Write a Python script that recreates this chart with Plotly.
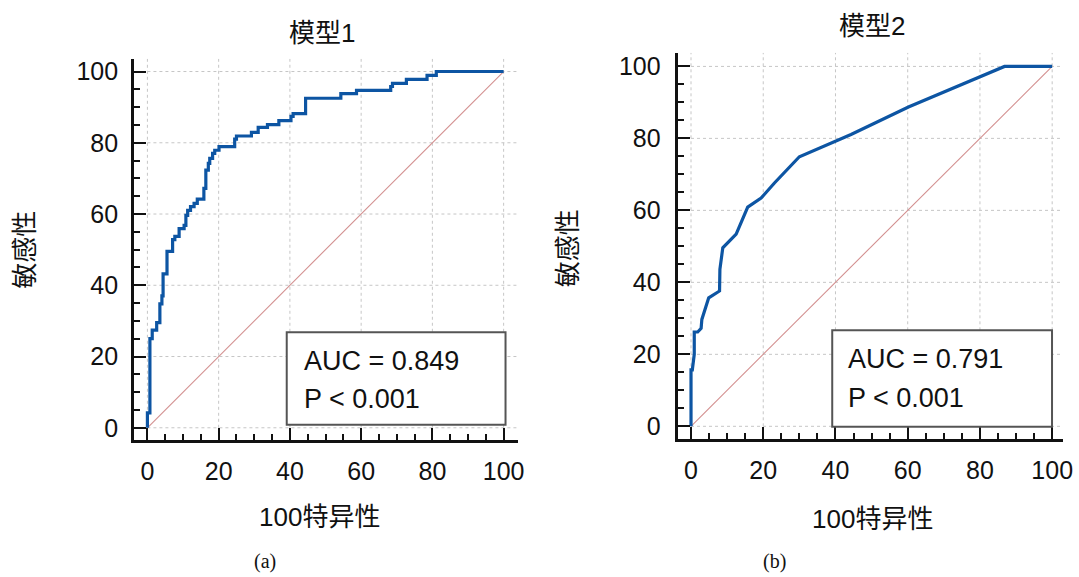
import plotly.graph_objects as go

# ---------------- data ----------------
# Model 1 ROC (step curve): 100-specificity (x) and sensitivity (y)
m1_fpr = [0, 0, 0.7, 1.35, 2.6, 3.5, 4.07, 4.4, 5.5, 7.07, 7.7, 8.9, 10.3, 10.8, 11.3,
          12.1, 13.1, 14.0, 15.85, 16.4, 17.1, 17.5, 18.3, 18.9, 20.1, 24.5, 25.0,
          29.2, 31.1, 33.7, 36.9, 40.3, 40.9, 44.4, 54.3, 58.7, 68.3, 68.8, 72.7,
          78.5, 81.1, 100]
m1_tpr = [0, 4.2, 25.0, 27.4, 29.5, 34.8, 37.0, 43.2, 49.5, 52.8, 53.7, 55.9, 56.8,
          59.6, 61.0, 62.1, 63.0, 64.2, 67.2, 72.3, 74.2, 75.6, 77.0, 77.9, 78.9,
          81.0, 81.9, 82.9, 84.3, 85.1, 86.2, 87.4, 88.2, 92.5, 93.8, 94.7, 95.8,
          96.7, 97.8, 98.9, 100, 100]

# Model 2 ROC (piecewise linear)
m2_fpr = [0, 0, 0.36, 0.9, 0.9, 1.85, 2.8, 3.0, 4.9, 7.9, 8.0, 8.8, 12.5, 15.7, 19.4,
          23.1, 30.0, 44.3, 60.2, 86.8, 100]
m2_tpr = [0, 15.7, 15.7, 20.0, 26.2, 26.2, 27.2, 29.7, 35.7, 37.6, 43.6, 49.6, 53.4,
          60.9, 63.4, 67.6, 74.9, 81.1, 88.7, 100, 100]

ref_line = [0, 100]
tick_vals = [0, 20, 40, 60, 80, 100]
titles = ["模型1", "模型2"]
auc_text = ["AUC = 0.849", "AUC = 0.791"]
p_text = ["P < 0.001", "P < 0.001"]
x_title = "100特异性"
y_title = "敏感性"
panel_labels = ["(a)", "(b)"]

# ---------------- layout helpers ----------------
REF_W, REF_H = 1079, 577
W, H = 1088, 577
def fx(px):
    return px / REF_W
def fy(py):
    return 1 - py / REF_H

CURVE = "#0d55a3"
DIAG = "#d39090"
GRID = "#c6c6c6"
FONT = "Liberation Sans, Arial, Noto Sans CJK SC, sans-serif"

X1_RANGE = [-3.8, 103.9]
Y1_RANGE = [-3.35, 103.6]
X2_RANGE = [-3.5, 103.0]
Y2_RANGE = [-3.45, 103.8]

fig = go.Figure()

fig.add_trace(go.Scatter(x=ref_line, y=ref_line, mode="lines",
                         line=dict(color=DIAG, width=1.1), xaxis="x", yaxis="y",
                         showlegend=False, hoverinfo="skip"))
fig.add_trace(go.Scatter(x=m1_fpr, y=m1_tpr, mode="lines",
                         line=dict(color=CURVE, width=3.2, shape="hv"),
                         xaxis="x", yaxis="y", showlegend=False))
fig.add_trace(go.Scatter(x=ref_line, y=ref_line, mode="lines",
                         line=dict(color=DIAG, width=1.1), xaxis="x2", yaxis="y2",
                         showlegend=False, hoverinfo="skip"))
fig.add_trace(go.Scatter(x=m2_fpr, y=m2_tpr, mode="lines",
                         line=dict(color=CURVE, width=3.2),
                         xaxis="x2", yaxis="y2", showlegend=False))

def axis(domain, rng, anchor, standoff):
    return dict(
        domain=domain, range=rng, anchor=anchor,
        tickvals=tick_vals, ticks="inside", ticklen=12, tickwidth=2, tickcolor="#111",
        showline=True, linewidth=2.5, linecolor="#111", mirror=False,
        showgrid=False, zeroline=False, fixedrange=True,
        tickfont=dict(size=25, color="#111", family=FONT),
        ticklabelstandoff=standoff,
        minor=dict(ticks="inside", ticklen=6, tickwidth=1.5, tickcolor="#111",
                   dtick=5, tick0=0, showgrid=False),
    )

fig.update_layout(
    width=W, height=H,
    margin=dict(l=0, r=0, t=0, b=0),
    paper_bgcolor="white", plot_bgcolor="white",
    font=dict(family=FONT, color="#111"),
    xaxis=axis([fx(134), fx(518)], X1_RANGE, "y", 8),
    yaxis=axis([fy(441), fy(58)], Y1_RANGE, "x", 8),
    xaxis2=axis([fx(679), fx(1064)], X2_RANGE, "y2", 8),
    yaxis2=axis([fy(440), fy(52)], Y2_RANGE, "x2", 10),
)

shapes = []
# dotted grid lines that start at the 0 tick (as in the reference) and run to the plot edge
for xr, yr, xrng, yrng in [("x", "y", X1_RANGE, Y1_RANGE), ("x2", "y2", X2_RANGE, Y2_RANGE)]:
    for v in tick_vals:
        shapes.append(dict(type="line", xref=xr, yref=yr, x0=v, x1=v, y0=0, y1=yrng[1],
                           line=dict(color=GRID, width=1, dash="dot"), layer="below"))
        shapes.append(dict(type="line", xref=xr, yref=yr, x0=0, x1=xrng[1], y0=v, y1=v,
                           line=dict(color=GRID, width=1, dash="dot"), layer="below"))

shapes += [
    dict(type="rect", xref="paper", yref="paper", x0=fx(287), x1=fx(506),
         y0=fy(426), y1=fy(333), line=dict(color="#555", width=2), fillcolor="white",
         layer="above"),
    dict(type="rect", xref="paper", yref="paper", x0=fx(833), x1=fx(1053),
         y0=fy(428), y1=fy(331), line=dict(color="#555", width=2), fillcolor="white",
         layer="above"),
]
fig.update_layout(shapes=shapes)

def ann(text, px, py, size=26, xanchor="center", angle=0, family=FONT):
    fig.add_annotation(text=text, x=fx(px), y=fy(py), xref="paper", yref="paper",
                       showarrow=False, xanchor=xanchor, yanchor="middle",
                       textangle=angle, font=dict(size=size, family=family, color="#111"))

ann(titles[0], 322, 32)
ann(titles[1], 873, 25)
ann(y_title, 25, 250, angle=-90)
ann(y_title, 568, 248, angle=-90)
ann(x_title, 320, 519)
ann(x_title, 873, 521)
ann(auc_text[0], 302, 362, size=27, xanchor="left")
ann(p_text[0], 302, 400, size=27, xanchor="left")
ann(auc_text[1], 847, 360, size=27, xanchor="left")
ann(p_text[1], 847, 399, size=27, xanchor="left")
ann(panel_labels[0], 265, 563, size=20, family="Liberation Serif, Times New Roman, serif")
ann(panel_labels[1], 775, 563, size=20, family="Liberation Serif, Times New Roman, serif")

fig.write_html("out.html",
               config={"displayModeBar": False},
               post_script="document.body.style.margin='0';document.body.style.overflow='hidden';")
